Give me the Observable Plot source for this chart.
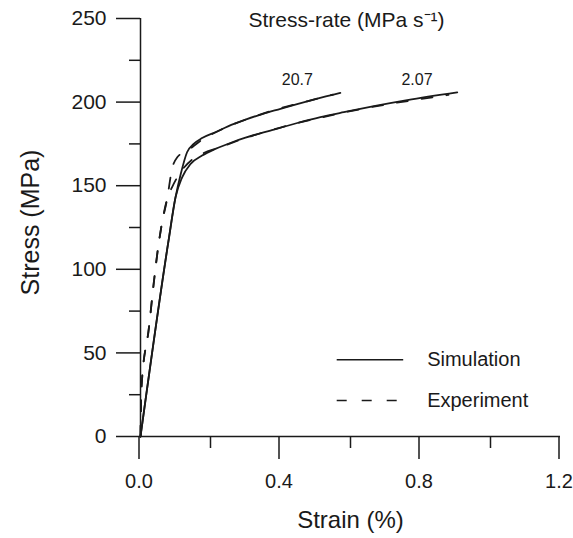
<!DOCTYPE html>
<html>
<head>
<meta charset="utf-8">
<script src="https://cdn.jsdelivr.net/npm/d3@7"></script>
<script src="https://cdn.jsdelivr.net/npm/@observablehq/plot@0.6"></script>
<style>
  html, body { margin: 0; padding: 0; background: #fff; }
  #chart svg { display: block; }
</style>
</head>
<body>
<div id="chart"></div>
<script>
// Simulation, stress-rate 20.7 MPa/s
const sim207Strain = [0, 0.08, 0.1, 0.115, 0.133, 0.152, 0.176, 0.214, 0.25, 0.3, 0.35, 0.4, 0.45, 0.5, 0.571];
const sim207Stress = [0, 117, 143, 157, 170, 175, 178.5, 182, 185.5, 189.5, 193, 196, 199, 201.8, 205.5];
// Simulation, stress-rate 2.07 MPa/s
const sim0207Strain = [0, 0.08, 0.1, 0.119, 0.143, 0.176, 0.214, 0.262, 0.3, 0.371, 0.448, 0.514, 0.581, 0.667, 0.762, 0.905];
const sim0207Stress = [0, 117, 143, 155, 163, 168, 172, 176, 178.7, 183, 187.5, 191, 194, 197.6, 201.2, 205.8];
// Experiment, stress-rate 20.7 MPa/s
const exp207Strain = [0, 0.003, 0.024, 0.038, 0.051, 0.06, 0.076, 0.09, 0.105, 0.134, 0.176, 0.23, 0.3, 0.4, 0.476, 0.55];
const exp207Stress = [0, 30, 65, 92, 114, 126, 142, 160, 167, 171, 177.5, 183.5, 189.5, 196.3, 200.5, 204.5];
// Experiment, stress-rate 2.07 MPa/s
const exp0207Strain = [0, 0.003, 0.024, 0.038, 0.051, 0.06, 0.076, 0.09, 0.114, 0.15, 0.18, 0.22, 0.3, 0.4, 0.5, 0.6, 0.7, 0.8, 0.88];
const exp0207Stress = [0, 30, 65, 92, 114, 126, 142, 149, 158, 166, 169.5, 172.5, 178.5, 184.8, 190, 194.6, 198.5, 201.8, 204.3];

const rateLabels = ["20.7", "2.07"];
const rateLabelStrain = [0.448, 0.79];
const rateLabelStress = [213, 213];

const yMajor = [0, 50, 100, 150, 200, 250];
const yMinor = [25, 75, 125, 175, 225];
const xMajor = [0, 0.4, 0.8, 1.2];
const xMinor = [0.2, 0.6, 1.0];

const legendItems = ["Simulation", "Experiment"];

const toRows = (xs, ys, series) => xs.map((x, i) => ({strain: x, stress: ys[i], series}));
const simRows = [
  ...toRows(sim207Strain, sim207Stress, "sim 20.7"),
  ...toRows(sim0207Strain, sim0207Stress, "sim 2.07")
];
const expRows = [
  ...toRows(exp207Strain, exp207Stress, "exp 20.7"),
  ...toRows(exp0207Strain, exp0207Stress, "exp 2.07")
];
const rateRows = rateLabels.map((t, i) => ({t, x: rateLabelStrain[i], y: rateLabelStress[i]}));

// legend placement (layout, in data units of the frame)
const legY = [45.9, 21.5];
const legendRows = legendItems.map((label, i) => ({label, y: legY[i]}));

const ink = "#1a1a1a";
const chart = Plot.plot({
  width: 573,
  height: 538,
  marginLeft: 140,
  marginRight: 13,
  marginTop: 18,
  marginBottom: 102,
  style: {fontFamily: "'Liberation Sans', Arial, Helvetica, sans-serif", color: ink, background: "#fff"},
  x: {domain: [0, 1.2]},
  y: {domain: [0, 250]},
  marks: [
    Plot.axisY({ticks: yMajor, tickSize: 24, tickPadding: 10, fontSize: 21, strokeWidth: 1.5, label: null}),
    Plot.axisY({ticks: yMinor, tickSize: 11, tickFormat: () => "", strokeWidth: 1.5, label: null}),
    Plot.axisX({ticks: xMajor, tickSize: 23, tickPadding: 14, fontSize: 20, dx: -1.5, strokeWidth: 1.5, tickFormat: d => d.toFixed(1), label: null}),
    Plot.axisX({ticks: xMinor, tickSize: 12, tickFormat: () => "", strokeWidth: 1.5, label: null}),
    Plot.ruleX([0], {y1: 0, y2: 250, stroke: ink, strokeWidth: 1.5}),
    Plot.ruleY([0], {x1: 0, x2: 1.2, stroke: ink, strokeWidth: 1.5}),
    Plot.line(simRows, {x: "strain", y: "stress", z: "series", stroke: ink, strokeWidth: 1.8, curve: "monotone-x"}),
    Plot.line(expRows, {x: "strain", y: "stress", z: "series", stroke: ink, strokeWidth: 1.8, strokeDasharray: "11,14", curve: "monotone-x"}),
    Plot.text(rateRows, {x: "x", y: "y", text: "t", fontSize: 16, fill: ink}),
    Plot.text(["Stress-rate (MPa s\u207B\u00B9)"], {frameAnchor: "top", textAnchor: "middle", lineAnchor: "top", dx: -4, dy: -6, fontSize: 21, fill: ink}),
    Plot.text(["Stress (MPa)"], {frameAnchor: "left", textAnchor: "middle", lineAnchor: "middle", dx: -110, dy: -5, rotate: -90, fontSize: 25, fill: ink}),
    Plot.text(["Strain (%)"], {frameAnchor: "bottom", textAnchor: "middle", lineAnchor: "middle", dy: 84, fontSize: 24, fill: ink}),
    Plot.ruleY(legendRows.slice(0, 1), {y: "y", x1: 0.562, x2: 0.752, stroke: ink, strokeWidth: 1.5}),
    Plot.ruleY(legendRows.slice(1, 2), {y: "y", x1: 0.562, x2: 0.752, stroke: ink, strokeWidth: 1.5, strokeDasharray: "10,15"}),
    Plot.text(legendRows, {y: "y", x: 0.819, text: "label", textAnchor: "start", fontSize: 20, fill: ink})
  ]
});
document.getElementById("chart").appendChild(chart);
</script>
</body>
</html>
